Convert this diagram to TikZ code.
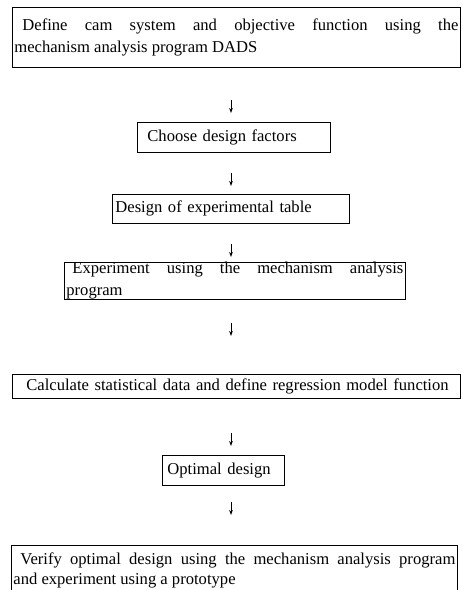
\documentclass[tikz,border=0pt]{standalone}
\usepackage{fontspec}
\setmainfont{Liberation Serif}
\usetikzlibrary{arrows.meta}
\begin{document}
\begin{tikzpicture}[x=1pt,y=-1pt,
  every node/.style={font=\fontsize{16.6}{21.5}\selectfont},
  box/.style={draw,line width=0.8pt,inner xsep=2pt,inner ysep=0pt,anchor=north west},
  flowarr/.style={-{Stealth[length=5pt,width=3.6pt]},line width=0.9pt}]
\useasboundingbox (0,0) rectangle (463,590);
\node[box,minimum height=60pt,text width=444pt,align=justify] (define) at (12,7) {\hspace*{8pt}Define cam system and objective function using the\linebreak mechanism analysis program DADS};
\coordinate (arr1) at (231,100);
\draw[flowarr] (arr1) -- ++(0,13);
\node[box,minimum height=30pt,text width=189pt,align=left] (factors) at (137,122) {\hspace*{8pt}Choose design factors};
\coordinate (arr2) at (231,173);
\draw[flowarr] (arr2) -- ++(0,13);
\node[box,minimum height=29pt,text width=233pt,align=left] (table) at (112,194) {\hspace*{1pt}Design of experimental table};
\coordinate (arr3) at (231,244);
\draw[flowarr] (arr3) -- ++(0,13);
\node[box,minimum height=31pt,text width=337pt,align=justify] (experiment) at (64,262) {\hspace*{6pt}Experiment using the mechanism analysis\linebreak program};
\coordinate (arr4) at (231,323);
\draw[flowarr] (arr4) -- ++(0,13);
\node[box,minimum height=24pt,text width=444pt,align=left] (regression) at (12,374) {\hspace*{12pt}Calculate statistical data and define regression model function};
\coordinate (arr5) at (231,433);
\draw[flowarr] (arr5) -- ++(0,13);
\node[box,minimum height=30pt,text width=118pt,align=left] (optimal) at (162,455) {\hspace*{3pt}Optimal design};
\coordinate (arr6) at (231,502);
\draw[flowarr] (arr6) -- ++(0,13);
\node[box,minimum height=50pt,text width=442pt,align=justify,font=\fontsize{16.6}{19.5}\selectfont] (verify) at (11,545) {\hspace*{7pt}Verify optimal design using the mechanism analysis program\linebreak and experiment using a prototype};
\end{tikzpicture}
\end{document}
